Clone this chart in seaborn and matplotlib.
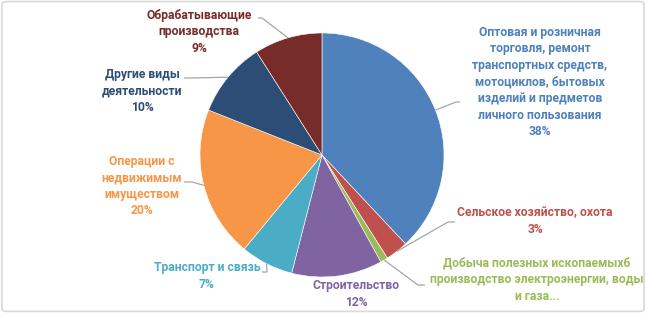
import matplotlib
matplotlib.use("Agg")
import matplotlib.pyplot as plt
import numpy as np
import seaborn as sns
from matplotlib.patches import FancyBboxPatch

# данные (доли, %)
sectors = [
    "Оптовая и розничная\nторговля, ремонт\nтранспортных средств,\nмотоциклов, бытовых\nизделий и предметов\nличного пользования",
    "Сельское хозяйство, охота",
    "Добыча полезных ископаемыхб\nпроизводство электроэнергии, воды\nи газа...",
    "Строительство",
    "Транспорт и связь",
    "Операции с\nнедвижимым\nимуществом",
    "Другие виды\nдеятельности",
    "Обрабатывающие\nпроизводства",
]
shares = [38, 3, 1, 12, 7, 20, 10, 9]
show_pct = [True, True, False, True, True, True, True, True]

slice_colors = ["#4F81BD", "#C0504D", "#9BBB59", "#8064A2",
                "#4BACC6", "#F79646", "#2C4D75", "#772C2A"]
text_colors = ["#4F81BD", "#C0504D", "#9BBB59", "#8064A2",
               "#4BACC6", "#F79646", "#2C4D75", "#772C2A"]

# положение подписей (центр блока текста, пиксели)
label_pos = [(540, 82), (535, 221), (537, 280), (356, 294),
             (207, 276), (142, 186), (142, 91), (199, 32)]
# выноски: излом и конец (пиксели), None - без выноски
leader_pts = [
    [(456, 102), (460, 102)],
    [(448, 222), (455, 222)],
    [(418, 285), (425, 285)],
    None,
    [(267, 272), (262, 272)],
    [(192, 182), (184, 182)],
    [(190, 78), (184, 78)],
    [(262, 18), (258, 18)],
]

W, H = 646, 313
CX, CY, R = 322, 155, 122


def to_data(px, py):
    return (px - CX) / R, (CY - py) / R


sns.set_theme(style="white")
plt.rcParams["font.family"] = ["Roboto", "DejaVu Sans"]

fig = plt.figure(figsize=(W / 100, H / 100), dpi=100)
ax = fig.add_axes([0, 0, 1, 1])

wedges, _ = ax.pie(shares, colors=slice_colors, startangle=90,
                   counterclock=False, radius=1,
                   wedgeprops=dict(edgecolor="white", linewidth=0.4))
ax.set_xlim(-CX / R, (W - CX) / R)
ax.set_ylim(-(H - CY) / R, CY / R)
ax.set_aspect("auto")
ax.axis("off")

for i, w in enumerate(wedges):
    text = sectors[i]
    if show_pct[i]:
        text += f"\n{shares[i]}%"
    x, y = to_data(*label_pos[i])
    ax.text(x, y, text, ha="center", va="center", multialignment="center",
            color=text_colors[i], fontsize=8.7, fontweight="bold", linespacing=1.36)

    if leader_pts[i] is not None:
        mid = np.deg2rad((w.theta1 + w.theta2) / 2)
        xs = [np.cos(mid)]
        ys = [np.sin(mid)]
        for p in leader_pts[i]:
            dx, dy = to_data(*p)
            xs.append(dx)
            ys.append(dy)
        ax.plot(xs, ys, color="#A6A6A6", lw=0.9, solid_capstyle="butt")

# рамка вокруг диаграммы
fig.patches.append(FancyBboxPatch((0.003, 0.005), 0.994, 0.99,
                                  boxstyle="round,pad=0,rounding_size=0.008",
                                  transform=fig.transFigure, fill=False,
                                  edgecolor="#D9D9D9", lw=1.2))

fig.savefig("out.png", dpi=100)
plt.close(fig)
